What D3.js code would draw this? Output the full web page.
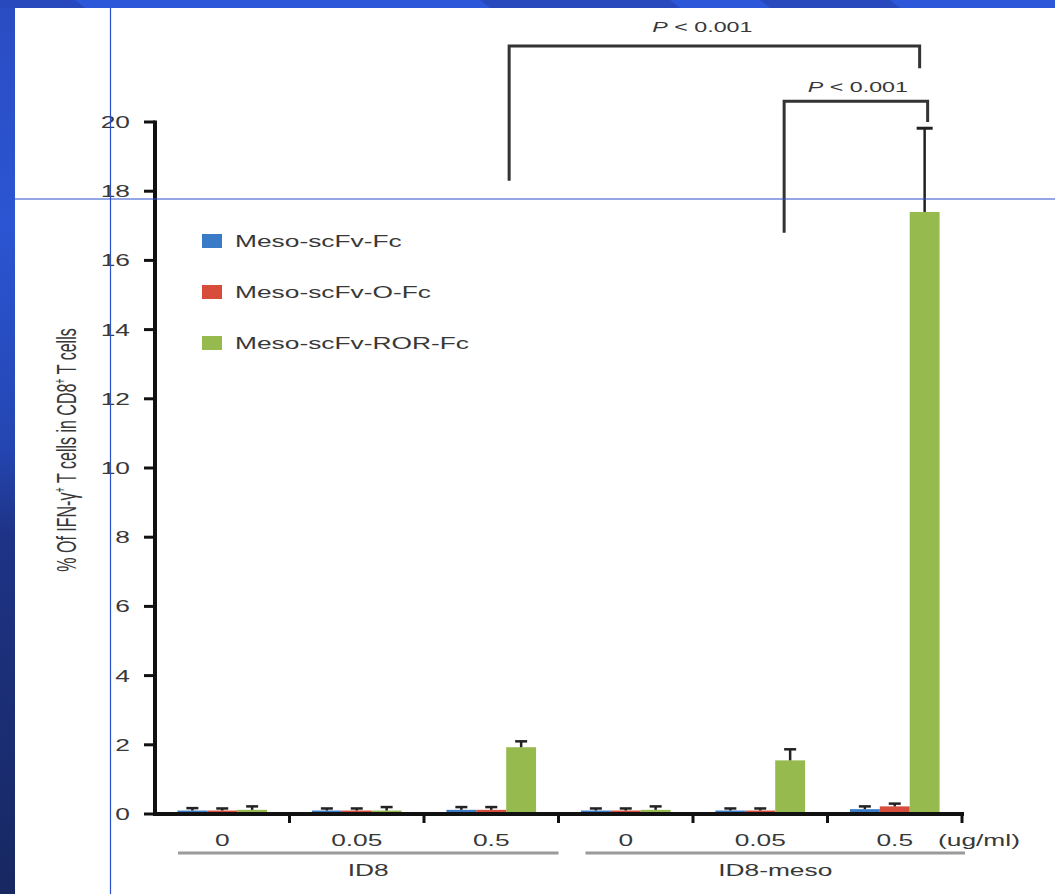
<!DOCTYPE html>
<html>
<head>
<meta charset="utf-8">
<script src="https://cdn.jsdelivr.net/npm/d3@7"></script>
<style>
  html, body { margin: 0; padding: 0; background: #fff; }
  svg { display: block; font-family: "Liberation Sans", Arial, sans-serif; }
</style>
</head>
<body>
<svg id="chart"></svg>
<script>
// concentrations (ug/ml) per group, two cell lines of three groups each
const concentrations = ['0', '0.05', '0.5', '0', '0.05', '0.5'];
const cellLines = ['ID8', 'ID8-meso'];
const seriesNames = ['Meso-scFv-Fc', 'Meso-scFv-O-Fc', 'Meso-scFv-ROR-Fc'];

// % IFN-gamma+ T cells in CD8+ T cells (mean, SD)
const fcMean = [0.10, 0.10, 0.12, 0.10, 0.10, 0.14];
const fcErr = [0.07, 0.06, 0.08, 0.06, 0.06, 0.08];
const oFcMean = [0.10, 0.10, 0.12, 0.10, 0.10, 0.22];
const oFcErr = [0.06, 0.06, 0.08, 0.06, 0.06, 0.08];
const rorMean = [0.12, 0.10, 1.93, 0.12, 1.55, 17.4];
const rorErr = [0.10, 0.10, 0.17, 0.10, 0.32, 2.42];

const yTicks = [0, 2, 4, 6, 8, 10, 12, 14, 16, 18, 20];

// significance brackets between ROR-Fc bars (group index, levels in y units)
const comparisons = [
  { from: 2, to: 5, top: 22.2, fromEnd: 18.3, toEnd: 21.55, label: '< 0.001' },
  { from: 4, to: 5, top: 20.6, fromEnd: 16.8, toEnd: 20.0, label: '< 0.001' },
];

const colors = ['#3a7bc8', '#d84c3c', '#97ba4e'];
const width = 1055;
const height = 894;
const sx = 1.55; // the reference picture is stretched sideways

const svg = d3.select('#chart').attr('width', width).attr('height', height);

// slide background
const defs = svg.append('defs');
const grad = defs.append('linearGradient').attr('id', 'side').attr('x1', 0).attr('y1', 0).attr('x2', 0).attr('y2', 1);
[['0', '#2a4cc2'], ['0.25', '#2c55d3'], ['0.5', '#2446b2'], ['0.6', '#1e3386'], ['1', '#172862']]
  .forEach(([o, c]) => grad.append('stop').attr('offset', o).attr('stop-color', c));

svg.append('rect').attr('width', width).attr('height', height).attr('fill', 'url(#side)');
svg.append('rect').attr('width', width).attr('height', 8).attr('fill', '#2c57d8');
svg.append('path').attr('d', 'M0,0 H75 L85,8 H0 Z M480,0 H670 L680,8 H490 Z M760,0 H890 L900,8 H770 Z').attr('fill', '#2849bd');
svg.append('rect').attr('x', 15).attr('y', 8).attr('width', width - 15).attr('height', height - 8).attr('fill', '#fff');

// scales
const x0 = d3.scaleBand().domain(d3.range(concentrations.length)).range([155, 962]).padding(0);
const x1 = d3.scaleBand().domain(d3.range(seriesNames.length)).range([0, x0.bandwidth()])
  .paddingInner(0).paddingOuter(0.75);
const y = d3.scaleLinear().domain([0, 20]).range([814, 122]);

const means = [fcMean, oFcMean, rorMean];
const errs = [fcErr, oFcErr, rorErr];

function stretchedText(g, x, yy, txt, size, anchor) {
  return g.append('text')
    .attr('transform', `translate(${x},${yy}) scale(${sx},1)`)
    .attr('text-anchor', anchor || 'middle')
    .attr('font-size', size)
    .attr('fill', '#383838')
    .text(txt);
}

// bars
const bars = [];
concentrations.forEach((c, g) => {
  seriesNames.forEach((s, i) => {
    bars.push({ g, i, v: means[i][g], e: errs[i][g] });
  });
});

const barLayer = svg.append('g');
barLayer.selectAll('rect')
  .data(bars)
  .join('rect')
  .attr('x', (d) => x0(d.g) + x1(d.i))
  .attr('y', (d) => y(d.v))
  .attr('width', x1.bandwidth())
  .attr('height', (d) => y(0) - y(d.v))
  .attr('fill', (d) => colors[d.i]);

// error bars (upper whisker only)
const errLayer = svg.append('g').attr('stroke', '#222');
bars.forEach((d) => {
  const cx = x0(d.g) + x1(d.i) + x1.bandwidth() / 2;
  const big = d.e > 1;
  const cap = big ? 8 : 6;
  errLayer.append('line')
    .attr('x1', cx).attr('x2', cx)
    .attr('y1', y(d.v)).attr('y2', y(d.v + d.e))
    .attr('stroke-width', 2.5);
  errLayer.append('line')
    .attr('x1', cx - cap).attr('x2', cx + cap)
    .attr('y1', y(d.v + d.e)).attr('y2', y(d.v + d.e))
    .attr('stroke-width', big ? 3 : 2.5);
});

// y axis
const yAxis = svg.append('g').attr('stroke', '#111');
yAxis.append('line')
  .attr('x1', 155).attr('x2', 155)
  .attr('y1', y(20) - 1.5).attr('y2', y(0) + 2)
  .attr('stroke-width', 4);
yAxis.selectAll('line.tick')
  .data(yTicks)
  .join('line')
  .attr('class', 'tick')
  .attr('x1', 144).attr('x2', 155)
  .attr('y1', (d) => y(d)).attr('y2', (d) => y(d))
  .attr('stroke-width', 3);
const yLabels = svg.append('g');
yTicks.forEach((t) => {
  stretchedText(yLabels, 130, y(t) + 6, t, 17, 'end');
});

// x axis
const xAxis = svg.append('g').attr('stroke', '#111');
xAxis.append('line')
  .attr('x1', 153).attr('x2', 964)
  .attr('y1', y(0)).attr('y2', y(0))
  .attr('stroke-width', 4);
xAxis.selectAll('line.tick')
  .data(d3.range(concentrations.length + 1))
  .join('line')
  .attr('class', 'tick')
  .attr('x1', (d) => 155 + d * x0.step()).attr('x2', (d) => 155 + d * x0.step())
  .attr('y1', y(0)).attr('y2', y(0) + 9)
  .attr('stroke-width', 3);
xAxis.select('line.tick').remove(); // first tick sits on the y axis

const xLabels = svg.append('g');
concentrations.forEach((c, g) => {
  stretchedText(xLabels, x0(g) + x0.bandwidth() / 2, 846, c, 17);
});
stretchedText(xLabels, 938, 846, '(ug/ml)', 17, 'start');

// cell line brackets
cellLines.forEach((name, k) => {
  const left = x0(k * 3) + (k === 0 ? 23 : 0) + (k === 1 ? 27 : 0);
  const right = x0(k * 3 + 2) + x0.bandwidth() + (k === 1 ? 3 : 0);
  svg.append('line')
    .attr('x1', left).attr('x2', right)
    .attr('y1', 853).attr('y2', 853)
    .attr('stroke', '#9a9a9a').attr('stroke-width', 3);
  stretchedText(svg, (left + right) / 2, 876, name, 17);
});

// y axis title
svg.append('text')
  .attr('transform', `translate(66,450) scale(1.75,1) rotate(-90)`)
  .attr('text-anchor', 'middle')
  .attr('dy', '0.35em')
  .attr('font-size', 16)
  .attr('fill', '#383838')
  .call((t) => {
    t.append('tspan').text('% Of IFN-γ');
    t.append('tspan').attr('font-size', 9).attr('dy', -6).text('+');
    t.append('tspan').attr('dy', 6).text(' T cells in CD8');
    t.append('tspan').attr('font-size', 9).attr('dy', -6).text('+');
    t.append('tspan').attr('dy', 6).text(' T cells');
  });

// legend
const legend = svg.append('g').attr('transform', 'translate(202,241)');
seriesNames.forEach((s, i) => {
  const row = legend.append('g').attr('transform', `translate(0,${i * 51})`);
  row.append('rect').attr('x', 0).attr('y', -7).attr('width', 20).attr('height', 14).attr('fill', colors[i]);
  stretchedText(row, 33, 6, s, 17, 'start');
});

// significance brackets
const bracketOffsets = [[-12, -5], [-6, 3]];
const labelShift = [-12, 2];
const labelGap = [14, 9];
comparisons.forEach((c, k) => {
  const cx = (g) => x0(g) + x1(2) + x1.bandwidth() / 2;
  const xa = cx(c.from) + bracketOffsets[k][0];
  const xb = cx(c.to) + bracketOffsets[k][1];
  svg.append('path')
    .attr('d', `M${xa},${y(c.fromEnd)} V${y(c.top)} H${xb} V${y(c.toEnd)}`)
    .attr('fill', 'none')
    .attr('stroke', '#333')
    .attr('stroke-width', 3);
  const t = stretchedText(svg, (xa + xb) / 2 + labelShift[k], y(c.top) - labelGap[k], '', 15);
  t.append('tspan').attr('font-style', 'italic').text('P');
  t.append('tspan').text(' ' + c.label);
});

// slide guide lines over the picture
svg.append('line').attr('x1', 110.5).attr('x2', 110.5).attr('y1', 8).attr('y2', height)
  .attr('stroke', '#2a4fc8').attr('stroke-width', 1.2);
svg.append('line').attr('x1', 15).attr('x2', width).attr('y1', 199).attr('y2', 199)
  .attr('stroke', '#2a4fc8').attr('stroke-width', 1.2);
</script>
</body>
</html>
